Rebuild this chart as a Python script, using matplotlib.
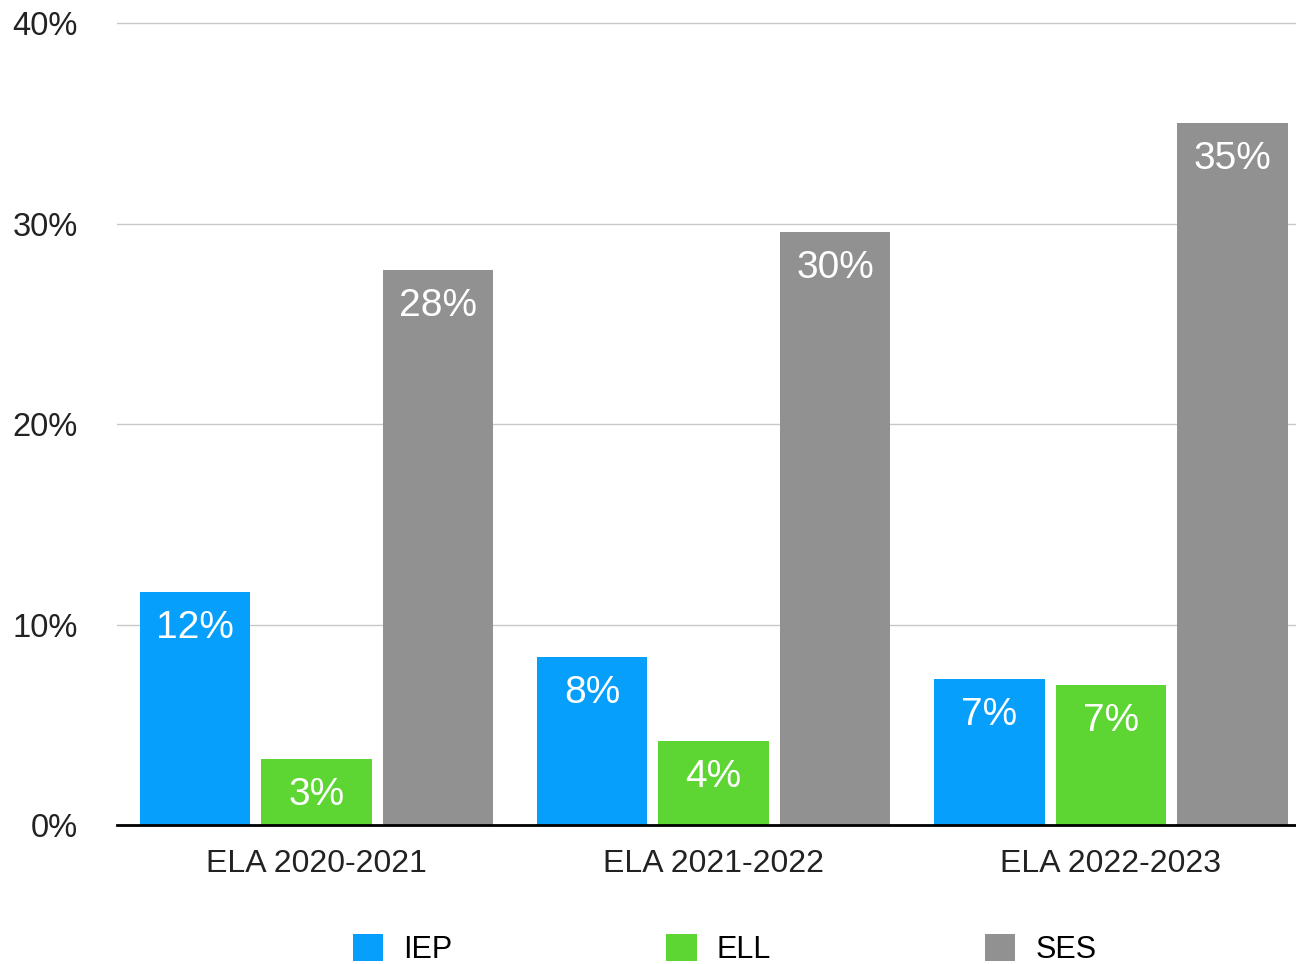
import numpy as np
import matplotlib
matplotlib.use("Agg")
import matplotlib.pyplot as plt

plt.rcParams['font.family'] = ['Liberation Sans', 'DejaVu Sans']

categories = ['ELA 2020-2021', 'ELA 2021-2022', 'ELA 2022-2023']
series = ['IEP', 'ELL', 'SES']
iep = [11.6, 8.4, 7.3]
ell = [3.3, 4.2, 7.0]
ses = [27.7, 29.6, 35.0]
colors = ['#069ffb', '#5dd633', '#919191']
yticks = [0, 10, 20, 30, 40]

fig = plt.figure(figsize=(12.96, 9.64), dpi=100)
ax = fig.add_axes([117/1296, 1 - 825/964, 1 - 117/1296, (825 - 20)/964])

x = np.arange(len(categories))
width = 0.278
step = 0.306
bars = []
for i, (name, vals) in enumerate(zip(series, [iep, ell, ses])):
    b = ax.bar(x + (i - 1) * step, vals, width, color=colors[i], label=name, zorder=3)
    bars.append(b)
    for rect, v in zip(b, vals):
        ax.annotate(f"{v:.0f}%", (rect.get_x() + rect.get_width() / 2, rect.get_height()),
                    xytext=(0, -36), textcoords='offset pixels', ha='center', va='center',
                    color='white', fontsize=28, zorder=4)

ax.set_xlim(-0.502, 2.466)
ax.set_ylim(0, 40.15)
ax.set_yticks(yticks)
ax.set_yticklabels([f"{t}%" for t in yticks], fontsize=23.5, color='#222222', va='center_baseline')
ax.set_xticks(x)
ax.set_xticklabels(categories, fontsize=23, color='#222222')
ax.tick_params(axis='y', length=0, pad=28)
ax.tick_params(axis='x', length=0, pad=17)
ax.grid(axis='y', color='#c8c8c8', linewidth=1.0, zorder=0)
ax.set_axisbelow(True)
for s in ['left', 'right', 'top']:
    ax.spines[s].set_visible(False)
ax.spines['bottom'].set_color('black')
ax.spines['bottom'].set_linewidth(2.0)
ax.spines['bottom'].set_zorder(5)

fig.legend(handles=bars, labels=series, loc='center', bbox_to_anchor=(0.559, 0.015),
           ncol=3, frameon=False, fontsize=22, handlelength=1.0, handleheight=1.0,
           handletextpad=0.65, columnspacing=7.0, borderpad=0)

fig.savefig('out.png', dpi=100)
